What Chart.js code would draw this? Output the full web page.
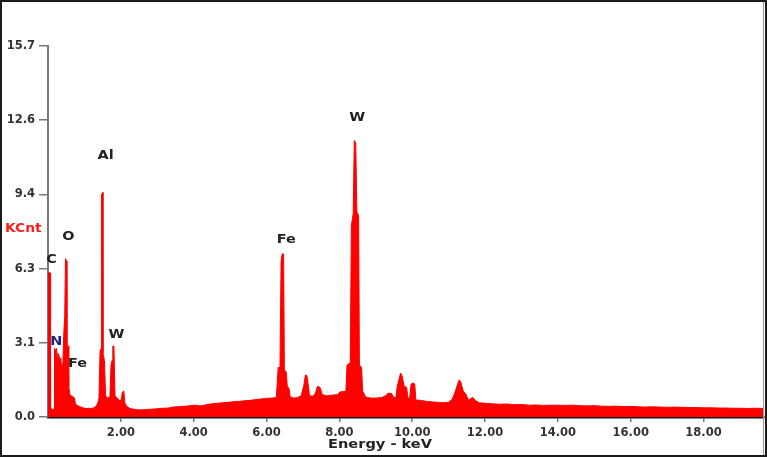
<!DOCTYPE html>
<html>
<head>
<meta charset="utf-8">
<title>EDS Spectrum</title>
<script src="https://cdn.jsdelivr.net/npm/chart.js@4.4.1/dist/chart.umd.min.js"></script>
<style>
    html, body { margin: 0; padding: 0; background: #fff; }
    #wrap { width: 767px; height: 457px; }
</style>
</head>
<body>
<div id="wrap"><canvas id="spectrum" width="767" height="457"></canvas></div>
<script>
// ─── Data ────────────────────────────────────────
const energyKeV = [
    0.00, 0.06, 0.07, 0.12, 0.17, 0.18, 0.21, 0.23, 0.25, 0.27, 0.30, 0.33, 0.35, 0.37, 0.41, 0.43, 0.46, 0.48, 0.51, 0.52,
    0.55, 0.57, 0.60, 0.64, 0.69, 0.73, 0.75, 0.80, 0.85, 0.90, 0.98, 1.05, 1.12, 1.20, 1.27, 1.33, 1.37, 1.40, 1.43, 1.46,
    1.47, 1.50, 1.51, 1.55, 1.58, 1.63, 1.70, 1.73, 1.76, 1.78, 1.81, 1.82, 1.84, 1.90, 1.96, 2.01, 2.04, 2.08, 2.11, 2.16,
    2.25, 2.35, 2.45, 2.55, 2.70, 2.85, 3.00, 3.15, 3.30, 3.45, 3.60, 3.75, 3.90, 4.05, 4.20, 4.35, 4.50, 4.65, 4.80, 4.95,
    5.10, 5.25, 5.40, 5.55, 5.70, 5.85, 6.00, 6.15, 6.27, 6.32, 6.37, 6.40, 6.43, 6.47, 6.49, 6.54, 6.57, 6.62, 6.65, 6.75,
    6.85, 6.95, 7.02, 7.07, 7.11, 7.15, 7.18, 7.28, 7.34, 7.40, 7.47, 7.53, 7.65, 7.80, 7.95, 8.02, 8.12, 8.18, 8.21, 8.30,
    8.33, 8.38, 8.41, 8.45, 8.48, 8.53, 8.55, 8.61, 8.64, 8.72, 8.85, 9.00, 9.15, 9.28, 9.33, 9.43, 9.48, 9.55, 9.59, 9.64,
    9.68, 9.72, 9.78, 9.85, 9.88, 9.93, 9.97, 10.02, 10.07, 10.10, 10.25, 10.40, 10.55, 10.70, 10.85, 11.00, 11.10, 11.18, 11.25, 11.29,
    11.33, 11.40, 11.48, 11.55, 11.60, 11.67, 11.73, 11.85, 12.00, 12.20, 12.40, 12.60, 12.80, 13.00, 13.20, 13.40, 13.60, 13.80, 14.00, 14.20,
    14.40, 14.60, 14.80, 15.00, 15.20, 15.40, 15.60, 15.80, 16.00, 16.20, 16.40, 16.60, 16.80, 17.00, 17.20, 17.40, 17.60, 17.80, 18.00, 18.20,
    18.40, 18.60, 18.80, 19.00, 19.20, 19.40, 19.70
];
const kCounts = [
    6.1, 6.1, 0.4, 0.3, 0.35, 2.9, 2.75, 2.9, 2.5, 2.7, 2.6, 2.4, 2.5, 2.1, 2.3, 3.4, 4.3, 6.7, 6.6, 3.1,
    3.0, 1.3, 0.95, 0.9, 0.85, 0.8, 0.55, 0.5, 0.45, 0.42, 0.38, 0.36, 0.37, 0.35, 0.4, 0.48, 0.6, 0.8, 2.8, 2.9,
    9.4, 9.5, 2.7, 2.4, 0.9, 0.8, 0.85, 2.2, 2.4, 3.0, 3.0, 2.3, 0.9, 0.8, 0.7, 0.72, 1.05, 1.1, 0.6, 0.45,
    0.36, 0.33, 0.31, 0.3, 0.32, 0.33, 0.35, 0.37, 0.38, 0.42, 0.44, 0.45, 0.48, 0.5, 0.47, 0.52, 0.56, 0.58, 0.6, 0.62,
    0.65, 0.66, 0.69, 0.7, 0.74, 0.76, 0.79, 0.8, 0.82, 2.1, 2.1, 6.6, 6.9, 6.9, 2.0, 1.9, 1.3, 1.2, 0.85, 0.8,
    0.82, 0.9, 1.3, 1.78, 1.75, 1.3, 0.9, 0.88, 1.0, 1.3, 1.25, 0.95, 0.9, 0.92, 0.95, 1.06, 1.08, 1.1, 2.2, 2.3,
    8.1, 8.6, 11.7, 11.6, 8.7, 8.5, 2.2, 2.1, 1.1, 0.85, 0.8, 0.8, 0.82, 0.9, 1.0, 1.0, 0.85, 0.8, 1.3, 1.6,
    1.86, 1.75, 1.3, 1.25, 0.8, 0.8, 1.4, 1.43, 1.4, 0.72, 0.7, 0.66, 0.64, 0.62, 0.6, 0.62, 0.75, 1.06, 1.4, 1.57,
    1.5, 1.1, 0.95, 0.7, 0.78, 0.82, 0.7, 0.6, 0.58, 0.56, 0.54, 0.55, 0.52, 0.53, 0.5, 0.51, 0.49, 0.5, 0.5, 0.49,
    0.5, 0.48, 0.47, 0.48, 0.46, 0.45, 0.46, 0.44, 0.45, 0.43, 0.42, 0.43, 0.42, 0.41, 0.42, 0.41, 0.4, 0.4, 0.39, 0.39,
    0.38, 0.38, 0.37, 0.37, 0.36, 0.37, 0.36
];
const yTickValues = [0, 3.14, 6.28, 9.42, 12.56, 15.7];
const xTickValues = [2, 4, 6, 8, 10, 12, 14, 16, 18];

// peak labels: element, energy (keV), label height (KCnt)
const peakNames  = ["C", "N", "O", "Fe", "Al", "W", "Fe", "W"];
const peakEnergy = [0.10, 0.23, 0.56, 0.81, 1.58, 1.88, 6.54, 8.49];
const peakLabelY = [6.64, 3.17, 7.62, 2.24, 11.05, 3.47, 7.49, 12.65];

const FONT = "'DejaVu Sans', Verdana, sans-serif";

// ─────────────────────────────────────────────────
//  Annotation plugin (labels, frame)
// ─────────────────────────────────────────────────
function stretchedText(ctx, text, x, y, sx, align) {
    ctx.save();
    ctx.translate(x, y);
    ctx.scale(sx, 1);
    ctx.textAlign = align;
    ctx.fillText(text, 0, 0);
    ctx.restore();
}

const spectrumDecor = {
    id: "spectrumDecor",
    beforeDraw(chart) {
        const ctx = chart.ctx;
        ctx.save();
        ctx.fillStyle = "#fff";
        ctx.fillRect(0, 0, chart.width, chart.height);
        ctx.restore();
    },
    afterDraw(chart) {
        const ctx = chart.ctx;
        const xs = chart.scales.x, ys = chart.scales.y;
        ctx.save();
        ctx.textBaseline = "middle";

        ctx.font = "bold 12px " + FONT;
        peakNames.forEach((name, i) => {
            ctx.fillStyle = name === "N" ? "#1a237e" : "#222";
            stretchedText(ctx, name, xs.getPixelForValue(peakEnergy[i]), ys.getPixelForValue(peakLabelY[i]), 1.2, "center");
        });

        ctx.fillStyle = "#ff1a1a";
        ctx.font = "bold 12px " + FONT;
        stretchedText(ctx, "KCnt", 5, 229, 1.15, "left");

        ctx.fillStyle = "#222";
        ctx.font = "bold 13px " + FONT;
        stretchedText(ctx, "Energy - keV", 380, 445, 1.12, "center");

        // outer frame
        ctx.strokeStyle = "#1a1a1a";
        ctx.lineWidth = 2;
        ctx.strokeRect(1, 1, chart.width - 2, chart.height - 2);
        ctx.strokeStyle = "#999";
        ctx.lineWidth = 1;
        ctx.beginPath();
        ctx.moveTo(chart.width - 3.5, 2);
        ctx.lineTo(chart.width - 3.5, chart.height - 2);
        ctx.stroke();
        ctx.restore();
    }
};

// ─────────────────────────────────────────────────
//  Chart
// ─────────────────────────────────────────────────
function initSpectrum() {
    const ctx = document.getElementById("spectrum").getContext("2d");
    new Chart(ctx, {
        type: "line",
        data: {
            datasets: [{
                data: energyKeV.map((e, i) => ({ x: e, y: kCounts[i] })),
                borderColor: "#ff0000",
                backgroundColor: "#ff0000",
                borderWidth: 1,
                pointRadius: 0,
                tension: 0,
                fill: "origin"
            }]
        },
        options: {
            responsive: false,
            animation: false,
            devicePixelRatio: 1,
            layout: { padding: { top: 46, right: 3, left: 0, bottom: 0 } },
            plugins: { legend: { display: false }, tooltip: { enabled: false } },
            scales: {
                x: {
                    type: "linear", min: 0, max: 19.66,
                    afterBuildTicks: s => { s.ticks = xTickValues.map(v => ({ value: v })); },
                    afterFit: s => { s.height = 40; },
                    grid: { drawOnChartArea: false, tickLength: 5, color: "#777", lineWidth: 1.5 },
                    border: { color: "#111", width: 2.5 },
                    ticks: {
                        autoSkip: false, maxRotation: 0, padding: 4, color: "#333",
                        font: { family: FONT, size: 11.5, weight: "bold" },
                        callback: v => v.toFixed(2)
                    }
                },
                y: {
                    min: 0, max: 15.7,
                    afterBuildTicks: s => { s.ticks = yTickValues.map(v => ({ value: v })); },
                    afterFit: s => { s.width = 48; },
                    grid: { drawOnChartArea: false, tickLength: 9, color: "#777", lineWidth: 1.5 },
                    border: { color: "#777", width: 2 },
                    ticks: {
                        autoSkip: false, padding: 4, color: "#333",
                        font: { family: FONT, size: 11.5, weight: "bold" },
                        callback: v => v.toFixed(1)
                    }
                }
            }
        },
        plugins: [spectrumDecor]
    });
}

window.addEventListener("DOMContentLoaded", initSpectrum);
</script>
</body>
</html>
